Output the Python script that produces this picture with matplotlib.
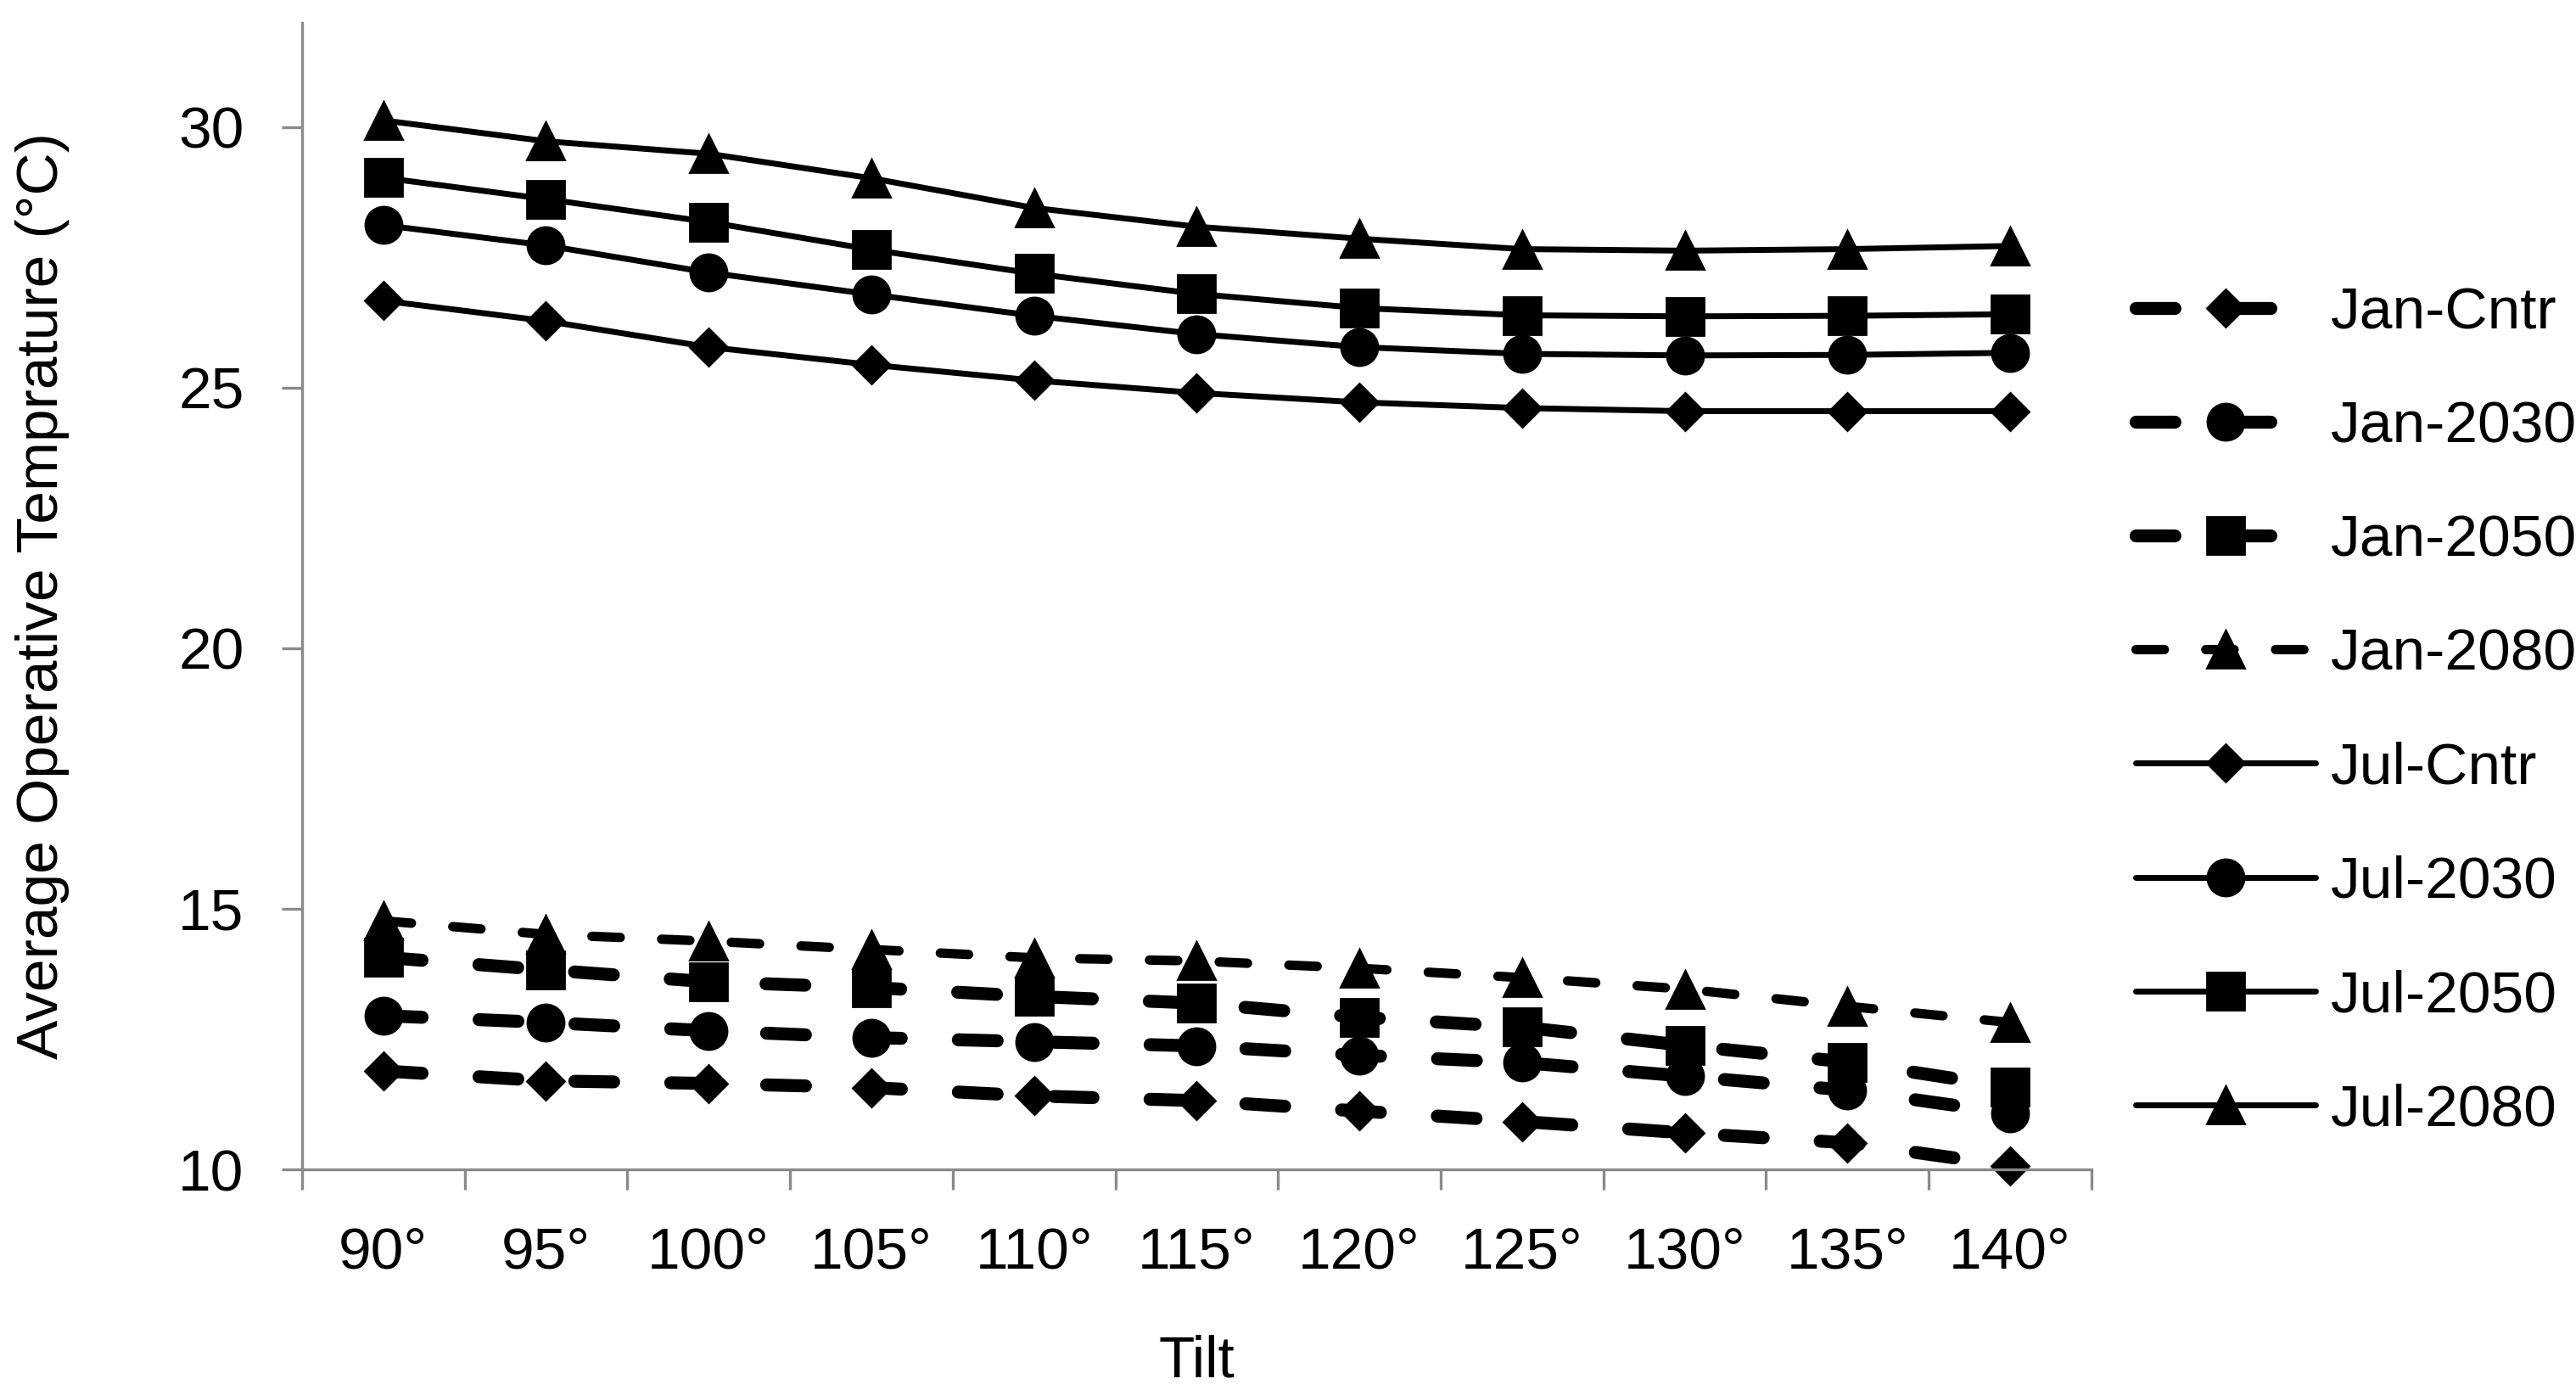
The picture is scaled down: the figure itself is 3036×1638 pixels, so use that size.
import matplotlib
matplotlib.use('Agg')
import matplotlib.pyplot as plt
import numpy as np

plt.rcParams['font.family'] = ['Liberation Sans', 'DejaVu Sans']

grey = '#8a8a8a'

tilts = ['90°', '95°', '100°', '105°', '110°', '115°', '120°', '125°', '130°', '135°', '140°']

jan_cntr = [11.89, 11.70, 11.65, 11.57, 11.41, 11.32, 11.12, 10.92, 10.70, 10.51, 10.07]
jan_2030 = [12.95, 12.82, 12.66, 12.53, 12.45, 12.37, 12.19, 12.05, 11.79, 11.52, 11.08]
jan_2050 = [14.07, 13.83, 13.60, 13.49, 13.32, 13.19, 12.92, 12.73, 12.38, 12.06, 11.58]
jan_2080 = [14.77, 14.51, 14.38, 14.22, 14.06, 14.00, 13.86, 13.68, 13.46, 13.13, 12.82]
jul_cntr = [26.67, 26.28, 25.78, 25.44, 25.14, 24.90, 24.72, 24.61, 24.55, 24.55, 24.55]
jul_2030 = [28.12, 27.73, 27.21, 26.79, 26.38, 26.03, 25.78, 25.65, 25.62, 25.63, 25.67]
jul_2050 = [29.03, 28.62, 28.18, 27.65, 27.19, 26.80, 26.53, 26.39, 26.37, 26.38, 26.41]
jul_2080 = [30.13, 29.73, 29.49, 29.02, 28.45, 28.09, 27.86, 27.66, 27.63, 27.66, 27.72]

x = np.arange(len(tilts))

fig = plt.figure(figsize=(15.18, 8.19), dpi=200)
ax = fig.add_axes([0.1172, 0.1587, 0.6947, 0.8248])

# january: thick dashed lines
jan = [('Jan-Cntr', jan_cntr, 'D', 11, 5.5),
       ('Jan-2030', jan_2030, 'o', 15.5, 5.5),
       ('Jan-2050', jan_2050, 's', 15.5, 5.5),
       ('Jan-2080', jan_2080, '^', 15.5, 4.0)]
for name, vals, mk, ms, lw in jan:
    ax.plot(x, vals, color='black', lw=lw, marker=mk, ms=ms, label=name,
            dashes=(3.0, 4.4), dash_capstyle='round', clip_on=False)

# july: solid lines
jul = [('Jul-Cntr', jul_cntr, 'D', 11),
       ('Jul-2030', jul_2030, 'o', 15.5),
       ('Jul-2050', jul_2050, 's', 15.5),
       ('Jul-2080', jul_2080, '^', 15.5)]
for name, vals, mk, ms in jul:
    ax.plot(x, vals, color='black', lw=2.5, marker=mk, ms=ms, label=name,
            solid_capstyle='round', clip_on=False)

ax.set_xlim(-0.5, 10.5)
ax.set_ylim(10, 32)
ax.set_yticks([10, 15, 20, 25, 30])

ax.set_xticks(np.arange(-0.5, 11, 1))
ax.set_xticklabels([])
ax.set_xticks(x, minor=True)
ax.set_xticklabels(tilts, minor=True)
ax.tick_params(axis='x', which='major', length=8.6, width=1.2, color=grey, direction='out')
ax.tick_params(axis='x', which='minor', length=0, pad=24, labelsize=25)
ax.tick_params(axis='y', length=8.6, width=1.2, color=grey, direction='out', pad=16, labelsize=25)

for side in ['top', 'right']:
    ax.spines[side].set_visible(False)
for side in ['left', 'bottom']:
    ax.spines[side].set_color(grey)
    ax.spines[side].set_linewidth(1.2)

ax.set_xlabel('Tilt', fontsize=25, labelpad=23)
ax.set_ylabel('Average Operative Temprature (°C)', fontsize=25, labelpad=46)

fig.legend(loc='center left', bbox_to_anchor=(0.829, 0.488), frameon=False,
           fontsize=25, handlelength=3.05, handletextpad=0.26, labelspacing=1.01,
           borderpad=0, borderaxespad=0)

fig.savefig('out.png', dpi=200)
